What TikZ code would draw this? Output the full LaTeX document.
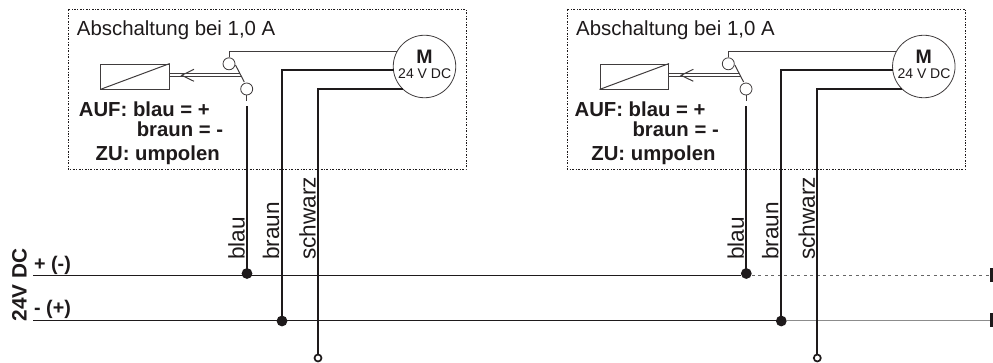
\documentclass[tikz,border=0pt]{standalone}
\usepackage{fontspec}
\setmainfont{Liberation Sans}
\usetikzlibrary{backgrounds}
\definecolor{ink}{RGB}{30,26,27}
\tikzset{
  x=1pt,y=-1pt,
  frameline/.style={draw=ink,line width=0.8pt,dash pattern=on 2pt off 1.6pt on 0.7pt off 1.6pt},
  thinwire/.style={draw=ink!85,line width=1pt},
  wire/.style={draw=ink,line width=1.7pt},
  busline/.style={draw=ink,line width=1.2pt},
  busgray/.style={draw=black!45,line width=1.6pt},
  busdash/.style={draw=black!60,line width=1pt,dash pattern=on 3pt off 3.5pt},
  busend/.style={fill=ink,draw=none,minimum width=3pt,minimum height=14pt,inner sep=0pt},
  dot/.style={circle,fill=ink,draw=none,minimum size=10.8pt,inner sep=0pt},
  opendot/.style={circle,draw=ink,fill=white,line width=1.7pt,minimum size=7pt,inner sep=0pt},
  contact/.style={circle,draw=ink!85,fill=white,line width=0.8pt,minimum size=12pt,inner sep=0pt},
  motor/.style={circle,draw=ink!85,fill=white,line width=0.8pt,minimum size=62.5pt,inner sep=0pt},
  relay/.style={rectangle,draw=ink!85,line width=0.9pt,minimum width=68.6pt,minimum height=25pt,inner sep=0pt},
  lab/.style={font=\fontsize{20.4}{22}\selectfont,text=ink,inner sep=0pt},
  wirelab/.style={font=\fontsize{22.6}{24}\selectfont,text=ink,inner sep=0pt,rotate=90,anchor=base west},
  boldlab/.style={font=\fontsize{20.3}{22}\selectfont\bfseries,text=ink,inner sep=0pt,anchor=base west},
  small/.style={font=\fontsize{14}{16}\selectfont,text=ink,inner sep=0pt,anchor=base},
}
\begin{document}
\begin{tikzpicture}
\useasboundingbox (0,0) rectangle (993,363);
\foreach \dx/\tdx/\sfx in {0/0/a,499.3/-3.6/b}{
\begin{scope}[xshift=\dx pt]
\draw[frameline] (68,9) rectangle (466,169.5);
\node[lab,anchor=base west] (t\sfx) at (76.7,36) {Abschaltung bei 1,0 A};
\node[contact] (ka\sfx) at (229,63.8) {};
\node[contact] (kb\sfx) at (246.7,89) {};
\node[motor] (m\sfx) at (424.5,66.5) {};
\node[boldlab,anchor=base,font=\fontsize{19.5}{22}\selectfont\bfseries] (mm\sfx) at (424.5,63.3) {M};
\node[small] (mv\sfx) at (424.7,78.3) {24 V DC};
\draw[thinwire] (ka\sfx.north) -- (229,52) -- (396.5,52);
\coordinate (sb\sfx) at (246.7,101);
\draw[thinwire] (kb\sfx.south) -- (sb\sfx);
\draw[thinwire] (235.5,65) -- (244.3,82);
\node[relay] (r\sfx) at (135,76.5) {};
\draw[thinwire] (r\sfx.south west) -- (r\sfx.north east);
\draw[thinwire] (169.3,73.7) -- (239.6,73.7);
\draw[thinwire] (169.3,77) -- (241.5,77);
\draw[thinwire] (194,69.3) -- (181.7,75.3) -- (194,81.3);
\node[boldlab] (ta\sfx) at (78.7+\tdx,116.7) {AUF: blau = +};
\node[boldlab] (tb\sfx) at (136.6+\tdx,137) {braun = -};
\node[boldlab] (tc\sfx) at (95.5+\tdx,160.8) {ZU: umpolen};
\node[wirelab] (la\sfx) at (244.5,260) {blau};
\node[wirelab] (lb\sfx) at (279,260) {braun};
\node[wirelab] (lc\sfx) at (315.5,260) {schwarz};
\node[dot] (da\sfx) at (247,273.5) {};
\node[dot] (db\sfx) at (282,321) {};
\node[opendot] (do\sfx) at (318,358) {};
\draw[wire] (da\sfx.center) -- (247,106);
\draw[wire] (db\sfx.center) -- (282,69.7) -- (393.5,69.7);
\draw[wire] (do\sfx.north) -- (318,88.8) -- (403,88.8);
\end{scope}}
\node[boldlab,rotate=90,font=\fontsize{20.8}{22}\selectfont\bfseries] (vdc) at (26.5,321.7) {24V DC};
\node[boldlab,font=\fontsize{19.7}{22}\selectfont\bfseries] (pm) at (34,270.5) {+ (-)};
\node[boldlab,font=\fontsize{19.7}{22}\selectfont\bfseries] (mp) at (34,315) {- (+)};
\coordinate (ls) at (33,275.4);
\coordinate (ms) at (33,320.4);
\node[busend,anchor=west] (le) at (990,275.4) {};
\node[busend,anchor=west] (me) at (990,320.4) {};
\begin{scope}[on background layer]
\draw[busline] (ls) -- (ls -| dab.west);
\draw[busdash] (ls -| dab.east) -- (le.west);
\draw[busline] (ms) -- (ms -| dbb.west);
\draw[busgray] (ms -| dbb.east) -- (me.west);
\end{scope}
\end{tikzpicture}
\end{document}
